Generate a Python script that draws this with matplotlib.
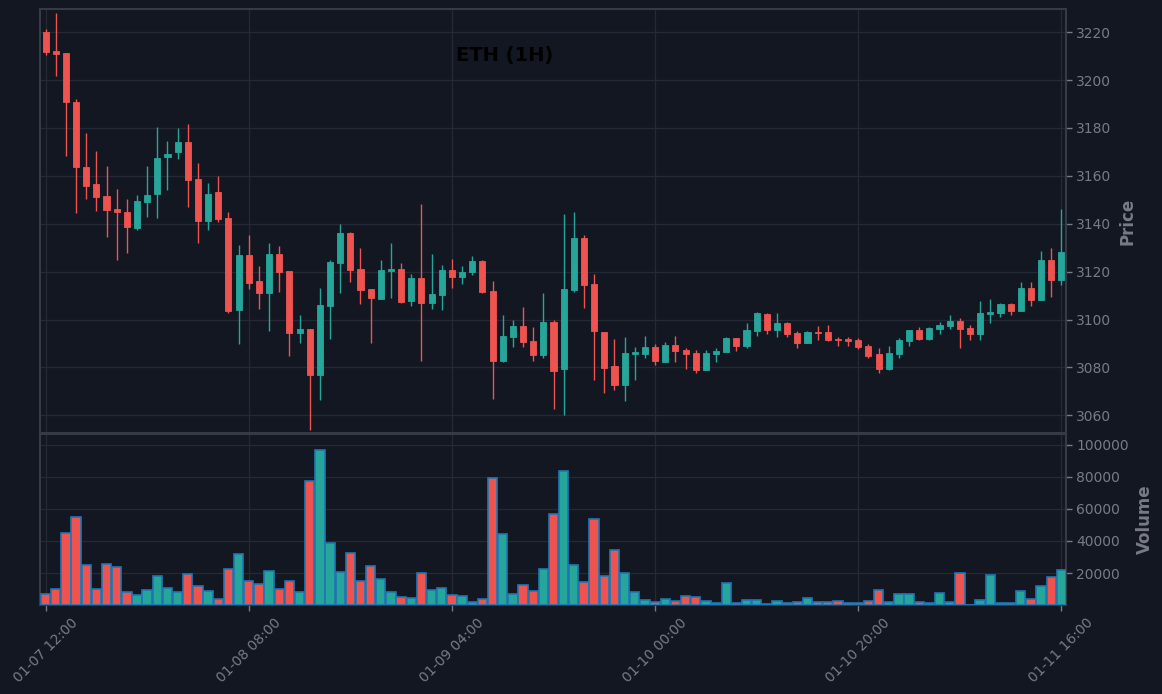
import matplotlib
matplotlib.use("Agg")
import matplotlib.pyplot as plt
import numpy as np

# ---- data (hourly ETH candles, 01-07 12:00 .. 01-11 16:00) ----
opens = [3220.1, 3212.2, 3211.4, 3191.0, 3163.9, 3156.4, 3151.4, 3146.0, 3145.1, 3138.2,
         3149.0, 3152.4, 3167.8, 3169.9, 3174.3, 3158.5, 3141.1, 3153.1, 3142.2, 3104.0,
         3126.8, 3116.0, 3111.1, 3127.2, 3120.1, 3094.2, 3096.0, 3076.9, 3105.8, 3123.6,
         3136.0, 3121.0, 3112.6, 3108.7, 3120.3, 3121.0, 3107.9, 3117.4, 3106.7, 3110.3,
         3120.7, 3117.9, 3119.9, 3124.3, 3111.8, 3082.8, 3092.5, 3097.4, 3091.0, 3085.0,
         3099.0, 3079.2, 3112.4, 3134.0, 3114.7, 3094.7, 3080.6, 3072.8, 3085.6, 3085.6,
         3088.6, 3082.4, 3089.3, 3087.2, 3086.0, 3079.0, 3085.7, 3086.5, 3092.2, 3089.0,
         3095.3, 3102.2, 3095.7, 3098.5, 3094.3, 3090.0, 3094.7, 3094.7, 3091.9, 3091.9,
         3091.4, 3088.9, 3085.6, 3079.4, 3085.7, 3091.0, 3095.6, 3091.9, 3096.0, 3097.2,
         3099.3, 3096.4, 3093.9, 3102.2, 3102.6, 3106.4, 3103.5, 3113.1, 3108.1, 3124.7,
         3116.4]
highs = [3221.4, 3228.0, 3211.4, 3192.2, 3177.9, 3170.4, 3164.2, 3154.6, 3150.4, 3152.1,
         3164.2, 3180.6, 3174.6, 3180.0, 3181.7, 3165.4, 3157.2, 3160.0, 3145.0, 3131.3,
         3135.4, 3122.5, 3132.1, 3130.6, 3120.4, 3101.7, 3096.0, 3113.2, 3124.7, 3140.1,
         3136.4, 3129.7, 3112.6, 3124.7, 3131.8, 3123.6, 3119.0, 3148.1, 3127.5, 3122.8,
         3125.3, 3122.4, 3126.4, 3124.7, 3116.0, 3101.9, 3099.9, 3105.3, 3097.0, 3111.1,
         3099.8, 3144.2, 3145.0, 3135.4, 3118.9, 3094.7, 3091.7, 3092.9, 3088.5, 3093.2,
         3089.9, 3090.8, 3093.3, 3088.3, 3087.2, 3087.2, 3088.0, 3092.9, 3092.2, 3098.5,
         3103.2, 3102.6, 3102.6, 3098.9, 3095.4, 3095.4, 3097.2, 3097.9, 3092.9, 3092.9,
         3092.2, 3089.7, 3088.0, 3088.8, 3092.2, 3095.6, 3096.9, 3096.9, 3098.8, 3101.7,
         3100.6, 3097.6, 3107.6, 3108.5, 3106.8, 3106.8, 3115.6, 3115.6, 3128.5, 3129.9,
         3146.0]
lows = [3210.3, 3201.7, 3168.3, 3144.6, 3150.4, 3145.4, 3134.4, 3124.9, 3127.8, 3137.4,
        3142.9, 3142.4, 3154.2, 3166.9, 3147.1, 3132.1, 3137.4, 3140.7, 3102.9, 3089.9,
        3112.8, 3104.6, 3095.0, 3111.5, 3084.6, 3090.0, 3054.0, 3066.4, 3091.8, 3111.2,
        3115.8, 3106.3, 3090.4, 3108.7, 3109.0, 3107.0, 3105.8, 3082.5, 3104.6, 3104.0,
        3113.3, 3115.0, 3118.5, 3111.1, 3067.0, 3082.1, 3088.6, 3088.6, 3082.8, 3083.8,
        3062.5, 3060.0, 3111.5, 3105.0, 3074.9, 3069.4, 3070.7, 3065.8, 3074.6, 3083.8,
        3080.8, 3082.4, 3082.4, 3079.2, 3077.8, 3079.0, 3082.4, 3086.5, 3086.7, 3088.2,
        3093.3, 3093.8, 3092.9, 3092.9, 3088.3, 3090.0, 3091.3, 3091.1, 3088.8, 3088.8,
        3087.8, 3083.8, 3077.5, 3079.0, 3083.8, 3088.9, 3091.4, 3091.4, 3093.9, 3096.0,
        3088.2, 3091.4, 3091.5, 3098.6, 3101.0, 3101.8, 3103.5, 3105.6, 3108.1, 3109.4,
        3114.3]
closes = [3211.9, 3211.1, 3190.7, 3163.6, 3155.7, 3151.1, 3145.7, 3144.9, 3138.6, 3149.7,
          3152.2, 3167.6, 3169.3, 3174.3, 3158.2, 3141.1, 3152.6, 3141.8, 3103.6, 3126.8,
          3115.3, 3111.1, 3127.2, 3119.9, 3094.2, 3096.0, 3076.9, 3106.1, 3123.9, 3136.0,
          3120.8, 3112.5, 3109.0, 3120.7, 3121.0, 3107.5, 3117.4, 3106.7, 3110.7, 3120.7,
          3117.9, 3119.9, 3124.3, 3111.5, 3082.8, 3093.1, 3097.4, 3090.8, 3085.0, 3099.0,
          3078.7, 3112.8, 3134.0, 3114.6, 3095.3, 3079.9, 3072.8, 3086.0, 3086.5, 3088.6,
          3082.5, 3089.3, 3086.9, 3085.7, 3079.0, 3086.0, 3086.8, 3092.2, 3089.0, 3095.6,
          3102.6, 3095.7, 3098.5, 3094.0, 3090.0, 3094.7, 3094.4, 3091.5, 3091.5, 3091.0,
          3088.6, 3084.9, 3079.4, 3086.0, 3091.4, 3095.6, 3091.9, 3096.4, 3097.6, 3099.3,
          3096.0, 3093.9, 3102.6, 3103.1, 3106.4, 3103.5, 3113.1, 3108.1, 3124.7, 3116.4,
          3128.1]
volumes = [6670, 10000, 45000, 55000, 25000, 10000, 25600, 23750, 8125, 6250,
           9375, 18125, 10625, 8125, 19375, 11875, 8750, 3750, 22500, 31875,
           15000, 13125, 21250, 10000, 15000, 8125, 77500, 96875, 38750, 20625,
           32500, 15000, 24375, 16250, 8125, 5000, 4375, 20000, 9375, 10625,
           6040, 5625, 1875, 3750, 79375, 44375, 6875, 12500, 8750, 22500,
           56875, 83750, 25000, 14375, 53750, 18125, 34375, 20000, 8125, 3125,
           2290, 3750, 2500, 5625, 5000, 2500, 1250, 13750, 1250, 3125,
           3125, 600, 2500, 1250, 1875, 4375, 1875, 1875, 2500, 1250,
           1250, 2500, 9375, 1875, 6875, 6875, 1875, 1250, 7500, 1875,
           20000, 400, 3125, 18750, 1250, 1250, 8750, 3750, 11875, 17500,
           21875]
tick_positions = [0, 20, 40, 60, 80, 100]
tick_labels = ["01-07 12:00", "01-08 08:00", "01-09 04:00",
               "01-10 00:00", "01-10 20:00", "01-11 16:00"]
price_ticks = [3060, 3080, 3100, 3120, 3140, 3160, 3180, 3200, 3220]
volume_ticks = [20000, 40000, 60000, 80000, 100000]

# ---- style ----
BG = "#131722"
SPINE = "#363a45"
GRID = "#252935"
TXT = "#787b86"
UP = "#26a69a"
DOWN = "#ef5350"
VEDGE = "#1f77b4"

o = np.array(opens); h = np.array(highs); l = np.array(lows); c = np.array(closes)
v = np.array(volumes)
x = np.arange(len(o))
up = c >= o
colors = np.where(up, UP, DOWN)

fig = plt.figure(figsize=(11.62, 6.94), dpi=100, facecolor=BG)
W, H = 1162, 694
axp = fig.add_axes([40 / W, 1 - 433 / H, 1026 / W, 424 / H])
axv = fig.add_axes([40 / W, 1 - 605 / H, 1026 / W, 171 / H], sharex=axp)

for ax in (axp, axv):
    ax.set_facecolor(BG)
    for s in ax.spines.values():
        s.set_color(SPINE)
        s.set_linewidth(1.5)
    ax.grid(True, color=GRID, linewidth=0.9)
    ax.set_axisbelow(True)
    ax.yaxis.tick_right()
    ax.yaxis.set_label_position("right")
    ax.tick_params(colors=TXT, labelcolor=TXT, labelsize=10, length=4, width=1)
    for t in ax.get_xticklines() + ax.get_yticklines():
        t.set_color(TXT)

# candles
axp.vlines(x, l, h, colors=colors, linewidth=1.0, zorder=2)
body_bottom = np.minimum(o, c)
body_h = np.maximum(np.abs(c - o), 0.3)
axp.bar(x, body_h, bottom=body_bottom, width=0.6, color=colors,
        edgecolor=colors, linewidth=0.6, zorder=3)

# volume
axv.bar(x, v, width=0.92, color=colors, edgecolor=VEDGE, linewidth=1.2, zorder=3)

axp.set_xlim(-0.55, 100.45)
axp.set_ylim(3052.6, 3229.7)
axv.set_ylim(0.3 * v.min(), 1.1 * v.max())

axp.set_yticks(price_ticks)
axv.set_yticks(volume_ticks)
axv.set_xticks(tick_positions)
axv.set_xticklabels(tick_labels, rotation=45, ha="center")
axp.tick_params(axis="x", labelbottom=False, length=0)

axp.set_ylabel("Price", color=TXT, fontsize=12, fontweight="bold", labelpad=5)
axv.set_ylabel("Volume", color=TXT, fontsize=12, fontweight="bold", labelpad=5)

fig.text(505 / W, 1 - 56 / H, "ETH (1H)", ha="center", va="center",
         fontsize=14, fontweight="bold", color="black")

fig.savefig("out.png", dpi=100, facecolor=BG)
